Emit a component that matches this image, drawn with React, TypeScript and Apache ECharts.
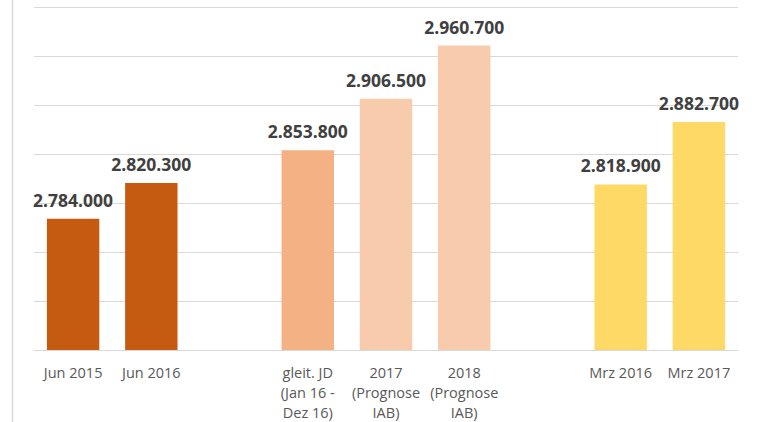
import React, { useEffect, useRef } from "react";
import * as echarts from "echarts";

const categories = [
  "Jun 2015",
  "Jun 2016",
  "",
  "gleit. JD\n(Jan 16 -\nDez 16)",
  "2017\n(Prognose\nIAB)",
  "2018\n(Prognose\nIAB)",
  "",
  "Mrz 2016",
  "Mrz 2017",
];
const values: (number | null)[] = [2784000, 2820300, null, 2853800, 2906500, 2960700, null, 2818900, 2882700];
const barColors = ["#C55A11", "#C55A11", "#FFFFFF", "#F4B183", "#F8CBAD", "#F8CBAD", "#FFFFFF", "#FFD966", "#FFD966"];
const yMin = 2650000;
const yMax = 3000000;
const yStep = 50000;

const fmt = (v: number) => String(Math.round(v)).replace(/\B(?=(\d{3})+(?!\d))/g, ".");

export default function App() {
  const ref = useRef<HTMLDivElement>(null);
  useEffect(() => {
    document.body.style.margin = "0";
    const chart = echarts.init(ref.current!, null, { renderer: "svg" });
    chart.setOption({
      animation: false,
      backgroundColor: "#FFFFFF",
      grid: { left: 34, right: 20, top: 7, bottom: 71, containLabel: false },
      graphic: [
        {
          type: "line",
          shape: { x1: 12.5, y1: 0, x2: 12.5, y2: 422 },
          style: { stroke: "#D9D9D9", lineWidth: 1.5 },
          silent: true,
        },
      ],
      xAxis: {
        type: "category",
        data: categories,
        axisTick: { show: false },
        axisLine: { show: true, lineStyle: { color: "#D9D9D9", width: 1 } },
        axisLabel: {
          interval: 0,
          color: "#595959",
          fontFamily: "Open Sans",
          fontSize: 14.5,
          lineHeight: 20,
          margin: 12,
        },
      },
      yAxis: {
        type: "value",
        min: yMin,
        max: yMax,
        interval: yStep,
        axisLabel: { show: false },
        axisLine: { show: false },
        axisTick: { show: false },
        splitLine: { lineStyle: { color: "#D9D9D9", width: 1 } },
      },
      series: [
        {
          type: "bar",
          barWidth: "67%",
          data: values.map((v, i) => ({
            value: v,
            itemStyle: { color: barColors[i] },
          })),
          label: {
            show: true,
            position: "top",
            distance: 10,
            color: "#404040",
            fontFamily: "Open Sans",
            fontWeight: "bold",
            fontSize: 17.5,
            formatter: (p: any) => (p.value == null ? "" : fmt(p.value)),
          },
        },
      ],
    });
    return () => chart.dispose();
  }, []);
  return <div ref={ref} style={{ width: 758, height: 422 }} />;
}
